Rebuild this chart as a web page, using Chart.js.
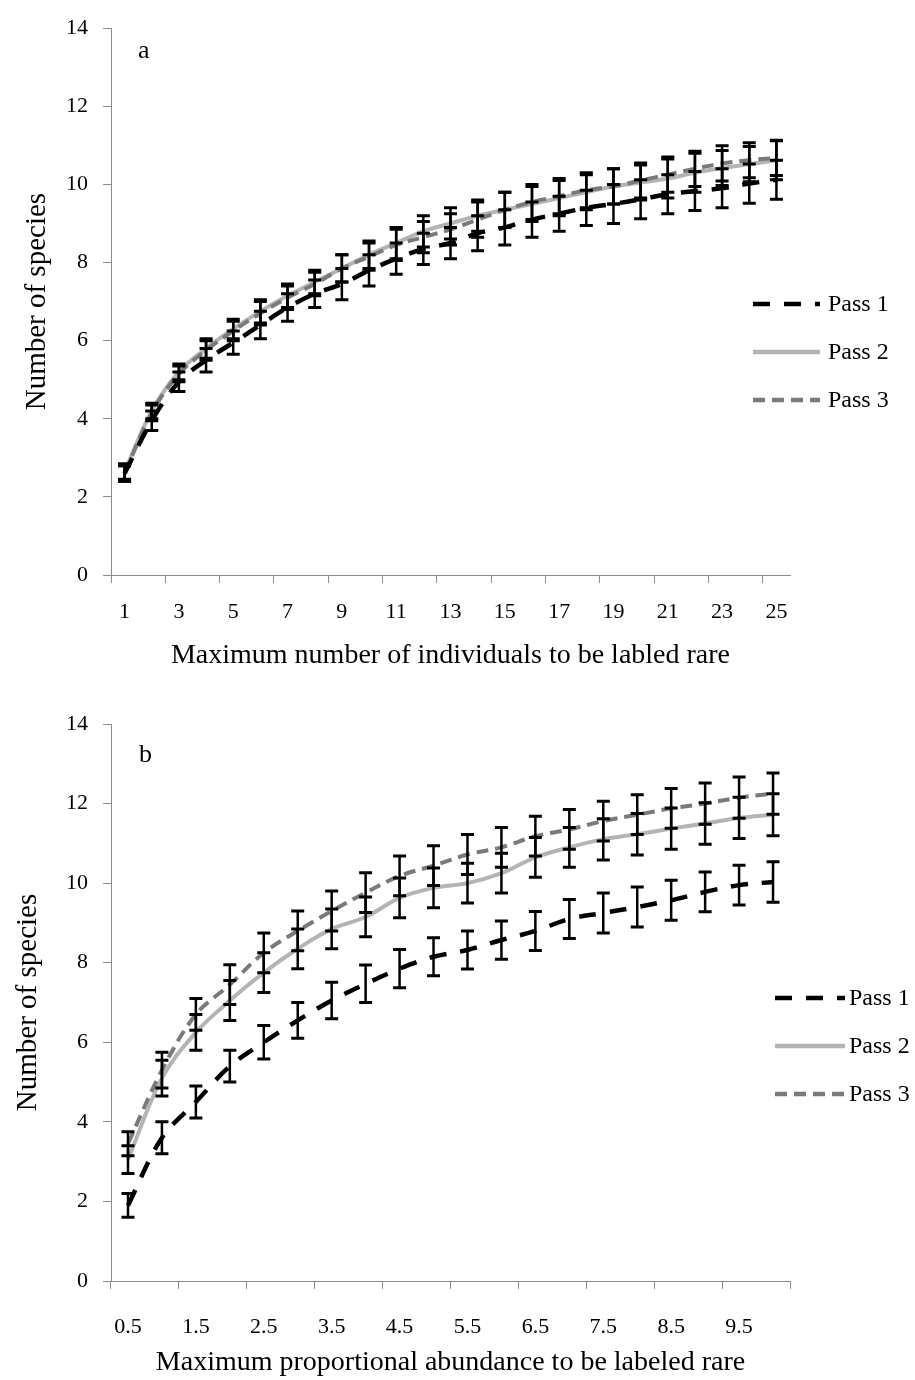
<!DOCTYPE html>
<html lang="en">
<head>
<meta charset="UTF-8">
<title>Number of species by rarity threshold</title>
<script src="https://cdn.jsdelivr.net/npm/chart.js"></script>
<style>
  body { margin: 0; background: #ffffff; }
  .panel { position: absolute; left: 0; width: 915px; height: 690px; }
  #panelA { top: 0; }
  #panelB { top: 690px; }
</style>
</head>
<body>
<div class="panel" id="panelA"><canvas id="chartA"></canvas></div>
<div class="panel" id="panelB"><canvas id="chartB"></canvas></div>
<script>
// ---- panel a: maximum number of individuals ----
const categoriesA = ['1','2','3','4','5','6','7','8','9','10','11','12','13','14','15','16','17','18','19','20','21','22','23','24','25'];
const tickLabelsA = ['1','3','5','7','9','11','13','15','17','19','21','23','25'];
const pass1A = [2.6, 3.95, 4.95, 5.5, 5.95, 6.4, 6.85, 7.2, 7.45, 7.8, 8.1, 8.35, 8.5, 8.75, 8.9, 9.1, 9.25, 9.4, 9.5, 9.62, 9.75, 9.83, 9.9, 10.02, 10.12];
const pass2A = [2.65, 4.2, 5.2, 5.8, 6.3, 6.75, 7.15, 7.5, 7.85, 8.2, 8.5, 8.8, 9.0, 9.2, 9.35, 9.5, 9.65, 9.8, 9.95, 10.05, 10.15, 10.3, 10.42, 10.52, 10.62];
const pass3A = [2.6, 4.15, 5.15, 5.75, 6.25, 6.7, 7.1, 7.45, 7.85, 8.15, 8.45, 8.65, 8.85, 9.1, 9.35, 9.55, 9.7, 9.85, 9.95, 10.1, 10.25, 10.4, 10.54, 10.62, 10.68];
const err1A = [0.2, 0.25, 0.25, 0.3, 0.3, 0.35, 0.35, 0.35, 0.4, 0.4, 0.4, 0.4, 0.4, 0.45, 0.45, 0.45, 0.45, 0.45, 0.5, 0.5, 0.5, 0.5, 0.5, 0.5, 0.5];
const err2A = [0.2, 0.2, 0.2, 0.25, 0.25, 0.3, 0.3, 0.3, 0.35, 0.35, 0.4, 0.4, 0.4, 0.4, 0.45, 0.45, 0.45, 0.45, 0.45, 0.45, 0.5, 0.5, 0.45, 0.45, 0.5];
const err3A = [0.2, 0.2, 0.2, 0.25, 0.25, 0.3, 0.3, 0.3, 0.35, 0.35, 0.4, 0.4, 0.4, 0.45, 0.45, 0.45, 0.45, 0.45, 0.45, 0.45, 0.45, 0.45, 0.45, 0.45, 0.45];

// ---- panel b: maximum proportional abundance ----
const categoriesB = ['0.5','1','1.5','2','2.5','3','3.5','4','4.5','5','5.5','6','6.5','7','7.5','8','8.5','9','9.5','10'];
const tickLabelsB = ['0.5','1.5','2.5','3.5','4.5','5.5','6.5','7.5','8.5','9.5'];
const pass1B = [1.9, 3.6, 4.5, 5.4, 6.0, 6.55, 7.05, 7.47, 7.85, 8.15, 8.32, 8.57, 8.8, 9.1, 9.25, 9.4, 9.57, 9.78, 9.95, 10.03];
const pass2B = [3.05, 5.1, 6.25, 7.05, 7.75, 8.35, 8.85, 9.15, 9.63, 9.88, 10.0, 10.25, 10.65, 10.9, 11.1, 11.23, 11.37, 11.5, 11.64, 11.72];
const pass3B = [3.45, 5.3, 6.7, 7.45, 8.25, 8.8, 9.3, 9.76, 10.18, 10.44, 10.72, 10.9, 11.18, 11.35, 11.56, 11.72, 11.88, 12.0, 12.15, 12.25];
const err1B = [0.3, 0.4, 0.4, 0.4, 0.42, 0.45, 0.46, 0.47, 0.48, 0.48, 0.48, 0.48, 0.49, 0.49, 0.5, 0.5, 0.5, 0.5, 0.5, 0.51];
const err2B = [0.35, 0.45, 0.45, 0.5, 0.5, 0.5, 0.5, 0.5, 0.5, 0.5, 0.5, 0.5, 0.5, 0.5, 0.52, 0.52, 0.52, 0.52, 0.52, 0.53];
const err3B = [0.3, 0.45, 0.4, 0.5, 0.5, 0.5, 0.5, 0.5, 0.5, 0.5, 0.5, 0.5, 0.5, 0.5, 0.5, 0.5, 0.5, 0.52, 0.52, 0.52];

const seriesNames = ['Pass 1', 'Pass 2', 'Pass 3'];
const yTicks = [0, 2, 4, 6, 8, 10, 12, 14];

const SERIF = "'Liberation Serif', 'Times New Roman', serif";
const AXIS_GREY = '#8c8c8c';

// draws +/- error bars from dataset.errors using the chart scales
const errorBars = {
  id: 'errorBars',
  afterDatasetsDraw(chart) {
    const ctx = chart.ctx, xs = chart.scales.x, ys = chart.scales.y;
    ctx.save();
    ctx.strokeStyle = '#000';
    chart.data.datasets.forEach(ds => {
      ds.data.forEach((v, i) => {
        const e = ds.errors[i];
        const px = xs.getPixelForValue(i);
        const top = ys.getPixelForValue(v + e);
        const bot = ys.getPixelForValue(v - e);
        ctx.lineWidth = 2.5;
        ctx.beginPath();
        ctx.moveTo(px, top); ctx.lineTo(px, bot);
        ctx.stroke();
        ctx.lineWidth = 3;
        ctx.beginPath();
        ctx.moveTo(px - 6.5, top); ctx.lineTo(px + 6.5, top);
        ctx.moveTo(px - 6.5, bot); ctx.lineTo(px + 6.5, bot);
        ctx.stroke();
      });
    });
    ctx.restore();
  }
};

// legend drawn at a fixed place to the right, overlapping the plot like the original
const sideLegend = {
  id: 'sideLegend',
  afterDraw(chart, args, o) {
    const ctx = chart.ctx;
    ctx.save();
    chart.data.datasets.forEach((ds, i) => {
      const y = o.y + i * o.gap;
      ctx.beginPath();
      ctx.setLineDash(ds.borderDash || []);
      ctx.strokeStyle = ds.borderColor;
      ctx.lineWidth = 4.5;
      ctx.moveTo(o.x, y); ctx.lineTo(o.x + o.len, y);
      ctx.stroke();
      ctx.setLineDash([]);
      ctx.fillStyle = '#000';
      ctx.font = o.fontSize + 'px ' + SERIF;
      ctx.textBaseline = 'middle';
      ctx.fillText(ds.label, o.x + o.len + o.textGap, y + 1);
    });
    ctx.restore();
  }
};

const panelTag = {
  id: 'panelTag',
  afterDraw(chart, args, o) {
    const ctx = chart.ctx;
    ctx.save();
    ctx.fillStyle = '#000';
    ctx.font = '26px ' + SERIF;
    ctx.textBaseline = 'alphabetic';
    ctx.fillText(o.text, o.x, o.y);
    ctx.restore();
  }
};

function series(label, data, errors, color, dash, width, order) {
  return {
    label, data, errors, order,
    borderColor: color,
    borderWidth: width,
    borderDash: dash,
    borderCapStyle: 'butt',
    pointRadius: 0,
    tension: 0.35,
    fill: false
  };
}

function buildChart(canvasId, cfg) {
  return new Chart(document.getElementById(canvasId), {
    type: 'line',
    data: {
      labels: cfg.labels,
      datasets: [
        series(seriesNames[0], cfg.p1, cfg.e1, '#000000', [17, 14], 4.5, 0),
        series(seriesNames[1], cfg.p2, cfg.e2, '#b4b4b4', [], 4, 2),
        series(seriesNames[2], cfg.p3, cfg.e3, '#7a7a7a', [12, 7], 4, 1)
      ]
    },
    options: {
      responsive: true,
      maintainAspectRatio: false,
      animation: false,
      layout: { padding: { top: cfg.top, right: 125, left: 0, bottom: 0 } },
      plugins: {
        legend: { display: false },
        tooltip: { enabled: false },
        sideLegend: cfg.legend,
        panelTag: cfg.tag
      },
      scales: {
        x: {
          type: 'category',
          offset: true,
          grid: {
            offset: true,
            drawOnChartArea: false,
            tickLength: 8,
            tickColor: ctx => {
              if (ctx.index === undefined) return cfg.endTick ? AXIS_GREY : 'rgba(0,0,0,0)';
              return ctx.index % 2 === 0 ? AXIS_GREY : 'rgba(0,0,0,0)';
            }
          },
          border: { color: AXIS_GREY, width: 1 },
          ticks: {
            autoSkip: false,
            maxRotation: 0,
            minRotation: 0,
            padding: cfg.xTickPad,
            color: '#000',
            font: { family: SERIF, size: 22 },
            callback(v) {
              const l = this.getLabelForValue(v);
              return cfg.tickLabels.includes(l) ? l : '';
            }
          },
          title: {
            display: true,
            text: cfg.xTitle,
            color: '#000',
            font: { family: SERIF, size: 28 },
            padding: { top: 0, bottom: cfg.xTitlePad }
          },
          afterFit(scale) { scale.height = cfg.xHeight; }
        },
        y: {
          min: yTicks[0],
          max: yTicks[yTicks.length - 1],
          afterBuildTicks(scale) { scale.ticks = yTicks.map(v => ({ value: v })); },
          grid: { drawOnChartArea: false, tickLength: 8, tickColor: AXIS_GREY },
          border: { color: AXIS_GREY, width: 1 },
          ticks: { padding: 15, color: '#000', font: { family: SERIF, size: 22 } },
          title: {
            display: true,
            text: 'Number of species',
            color: '#000',
            font: { family: SERIF, size: 29 },
            padding: { top: cfg.yTitlePad, bottom: 0 }
          },
          afterFit(scale) { scale.width = 111; }
        }
      }
    },
    plugins: [errorBars, sideLegend, panelTag]
  });
}

buildChart('chartA', {
  labels: categoriesA, tickLabels: tickLabelsA,
  p1: pass1A, p2: pass2A, p3: pass3A, e1: err1A, e2: err2A, e3: err3A,
  top: 15, xHeight: 115, xTickPad: 16, xTitlePad: 18, yTitlePad: 20, endTick: false,
  xTitle: 'Maximum number of individuals to be labled rare',
  legend: { x: 753, y: 304, gap: 48, len: 67, textGap: 8, fontSize: 24 },
  tag: { text: 'a', x: 138, y: 58 }
});

buildChart('chartB', {
  labels: categoriesB, tickLabels: tickLabelsB,
  p1: pass1B, p2: pass2B, p3: pass3B, e1: err1B, e2: err2B, e3: err3B,
  top: 34, xHeight: 99, xTickPad: 25, xTitlePad: 1, yTitlePad: 11, endTick: true,
  xTitle: 'Maximum proportional abundance to be labeled rare',
  legend: { x: 775, y: 308, gap: 48, len: 70, textGap: 4, fontSize: 24 },
  tag: { text: 'b', x: 139, y: 72 }
});
</script>
</body>
</html>
